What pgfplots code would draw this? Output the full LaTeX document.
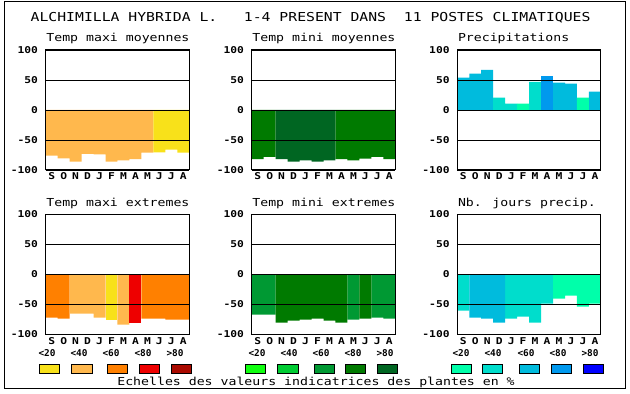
\documentclass[border=0pt]{standalone}
\usepackage{fontspec}
\usepackage{pgfplots}
\pgfplotsset{compat=1.18}
\newfontfamily\monofnt[FakeStretch=1.2]{DejaVu Sans Mono}
\newfontfamily\monoplain{DejaVu Sans Mono}
\newcommand\titlefont{\monofnt\fontsize{12.3}{14}\selectfont}
\newcommand\subfont{\monofnt\fontsize{11}{13}\selectfont}
\newcommand\tickfnt{\monofnt\bfseries\fontsize{9.4}{11}\selectfont}
\newcommand\legfnt{\monoplain\bfseries\fontsize{9.4}{11}\selectfont}
\definecolor{cY}{HTML}{F8E11A}
\definecolor{cLO}{HTML}{FFB84D}
\definecolor{cO}{HTML}{FF8000}
\definecolor{cR}{HTML}{EE0000}
\definecolor{cDR}{HTML}{AA0A00}
\definecolor{gA}{HTML}{10FF10}
\definecolor{gB}{HTML}{00CC33}
\definecolor{gC}{HTML}{009933}
\definecolor{gD}{HTML}{007A00}
\definecolor{gE}{HTML}{006622}
\definecolor{bA}{HTML}{00FFAA}
\definecolor{bB}{HTML}{00DDCC}
\definecolor{bC}{HTML}{00BBDD}
\definecolor{bD}{HTML}{0099EE}
\definecolor{bE}{HTML}{0000FF}
\pgfplotsset{
  panel/.style={
    scale only axis, width=143.6pt, height=120pt,
    anchor=south west,
    xmin=0, xmax=12, ymin=-100, ymax=100,
    ytick={-100,-50,0,50,100},
    yticklabels={{-100},{-50},{0},{50},{100}},
    ymajorgrids, grid style={black, line width=0.8pt},
    xtick={0.5,1.5,...,11.5},
    xticklabels={S,O,N,D,J,F,M,A,M,J,J,A},
    major tick length=0pt,
    axis line style={black, line width=1pt},
    axis on top,
    /pgf/number format/assume math mode=true,
    ticklabel style={font=\tickfnt},
    yticklabel style={inner sep=0pt, anchor=east, xshift=-7.5pt},
    xticklabel style={inner sep=0pt, anchor=north, yshift=-2.7pt},
    every axis plot/.append style={ybar, bar width=1, draw=none},
    every axis plot post/.append style={bar shift=0pt},
  }
}
\begin{document}
\begin{tikzpicture}
\useasboundingbox (0,0) rectangle (630pt,394pt);
\draw[line width=1pt] (4.5pt,5.5pt) rectangle (625pt,392.5pt);
\node[anchor=base west, inner sep=0pt, font=\titlefont] at (30.5pt,372pt)
  {ALCHIMILLA HYBRIDA L.~~~1-4 PRESENT DANS~~11 POSTES CLIMATIQUES};

% Panel 1
\begin{axis}[panel, name=p1, at={(45.7pt,224pt)}]
\addplot[fill=cLO] coordinates {(0.5,-76)(1.5,-80.5)(2.5,-86)(3.5,-73)(4.5,-74)(5.5,-86)(6.5,-84)(7.5,-82)(8.5,-71)};
\addplot[fill=cY] coordinates {(9.5,-70.5)(10.5,-66)(11.5,-71)};
\end{axis}
% Panel 2
\begin{axis}[panel, name=p2, at={(251.7pt,224pt)}]
\addplot[fill=gD] coordinates {(0.5,-82)(1.5,-78)(7.5,-82)(8.5,-84)(9.5,-81)(10.5,-78)(11.5,-82)};
\addplot[fill=gE] coordinates {(2.5,-82)(3.5,-86)(4.5,-84)(5.5,-86)(6.5,-84)};
\end{axis}
% Panel 3
\begin{axis}[panel, name=p3, at={(457.3pt,224pt)}]
\addplot[fill=bC] coordinates {(0.5,54)(1.5,60.5)(2.5,67)(8.5,45.5)(9.5,44)(11.5,30.5)};
\addplot[fill=bB] coordinates {(3.5,20.5)(4.5,10.5)(6.5,47)};
\addplot[fill=bA] coordinates {(5.5,10.5)(10.5,20.5)};
\addplot[fill=bD] coordinates {(7.5,57)};
\end{axis}
% Panel 4
\begin{axis}[panel, name=p4, at={(45.7pt,59.7pt)}]
\addplot[fill=cO] coordinates {(0.5,-72)(1.5,-74)(8.5,-74)(9.5,-74)(10.5,-75.5)(11.5,-75.5)};
\addplot[fill=cLO] coordinates {(2.5,-65.5)(3.5,-65.5)(4.5,-72)(6.5,-84)};
\addplot[fill=cY] coordinates {(5.5,-75.5)};
\addplot[fill=cR] coordinates {(7.5,-80.5)};
\end{axis}
% Panel 5
\begin{axis}[panel, name=p5, at={(251.7pt,59.7pt)}]
\addplot[fill=gC] coordinates {(0.5,-67)(1.5,-67)(8.5,-75.5)(10.5,-72)(11.5,-74)};
\addplot[fill=gD] coordinates {(2.5,-80.5)(3.5,-77)(4.5,-75.5)(5.5,-74)(6.5,-77)(7.5,-80.5)(9.5,-74)};
\end{axis}
% Panel 6
\begin{axis}[panel, name=p6, at={(457.3pt,59.7pt)}]
\addplot[fill=bB] coordinates {(0.5,-60.5)(4.5,-74)(5.5,-70.5)(6.5,-80.5)(7.5,-49)};
\addplot[fill=bC] coordinates {(1.5,-72)(2.5,-74)(3.5,-80.5)};
\addplot[fill=bA] coordinates {(8.5,-40.5)(9.5,-35.5)(10.5,-54)(11.5,-49)};
\end{axis}

\foreach \n/\t in {p1/Temp maxi moyennes, p2/Temp mini moyennes, p3/Precipitations,
                   p4/Temp maxi extremes, p5/Temp mini extremes, p6/Nb. jours precip.}
  \node[anchor=base west, inner sep=0pt, font=\subfont] at ([xshift=0.5pt,yshift=8pt]\n.north west) {\t};

% legend labels
\foreach \x/\l in {47/<20,79/<40,111/<60,143/<80,175/>80,
                   257/<20,289/<40,321/<60,353/<80,385/>80,
                   461/<20,493/<40,526/<60,558/<80,590/>80}
  \node[anchor=base, inner sep=0pt, font=\legfnt] at (\x pt,37pt) {\l};

% legend boxes
\foreach \a/\c in {39/cY,71.7/cLO,107/cO,139/cR,171/cDR,
                   245/gA,277.7/gB,314/gC,345/gD,377.3/gE,
                   451.3/bA,482.3/bB,519.3/bC,551/bD,583/bE}
  \draw[fill=\c, line width=0.8pt] (\a pt,20.7pt) rectangle ++(20.3pt,9pt);

\node[anchor=base, inner sep=0pt, font=\subfont] at (316pt,8pt)
  {Echelles des valeurs indicatrices des plantes en \%};
\end{tikzpicture}
\end{document}
